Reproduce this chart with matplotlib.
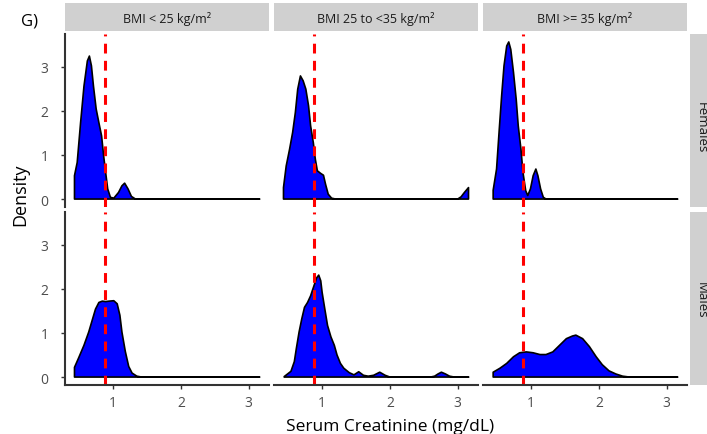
import numpy as np
import matplotlib.pyplot as plt
from matplotlib.patches import Rectangle

plt.rcParams['font.family'] = ['Open Sans', 'DejaVu Sans']

W, H = 707, 435

bmi_groups = ['BMI < 25 kg/m²', 'BMI 25 to <35 kg/m²', 'BMI >= 35 kg/m²']
sexes = ['Females', 'Males']
cutoff = 0.88

# density curves (serum creatinine, density)
fem_lt25_x = [0.43, 0.47, 0.52, 0.57, 0.62, 0.65, 0.68, 0.71, 0.75, 0.79, 0.83, 0.86, 0.89, 0.92, 0.96, 1.01,
              1.08, 1.13, 1.17, 1.22, 1.27, 1.33, 3.16]
fem_lt25_y = [0.53, 0.83, 1.73, 2.56, 3.13, 3.24, 3.02, 2.56, 2.04, 1.73, 1.43, 0.98, 0.60, 0.23, 0.04, 0.02,
              0.15, 0.30, 0.36, 0.23, 0.06, 0.0, 0.0]

fem_25_35_x = [0.43, 0.47, 0.52, 0.565, 0.605, 0.64, 0.68, 0.72, 0.76, 0.80, 0.83, 0.87, 0.90, 0.93, 0.98, 1.02,
               1.05, 1.09, 1.14, 1.20, 3.00, 3.05, 3.10, 3.16]
fem_25_35_y = [0.26, 0.75, 1.13, 1.51, 1.96, 2.49, 2.79, 2.68, 2.49, 2.11, 1.66, 1.28, 0.90, 0.64, 0.58, 0.54,
               0.34, 0.11, 0.02, 0.0, 0.0, 0.05, 0.15, 0.26]

fem_ge35_x = [0.44, 0.49, 0.53, 0.565, 0.60, 0.64, 0.67, 0.70, 0.74, 0.78, 0.81, 0.85, 0.88, 0.92, 0.95, 0.99,
              1.03, 1.07, 1.10, 1.14, 1.18, 1.22, 3.16]
fem_ge35_y = [0.20, 0.68, 1.58, 2.34, 3.02, 3.47, 3.56, 3.39, 2.87, 2.26, 1.66, 1.13, 0.60, 0.19, 0.08, 0.23,
              0.53, 0.68, 0.53, 0.23, 0.04, 0.0, 0.0]

male_lt25_x = [0.43, 0.49, 0.57, 0.64, 0.69, 0.74, 0.79, 0.84, 0.89, 0.94, 1.01, 1.06, 1.10, 1.13, 1.18, 1.23,
               1.28, 1.35, 1.42, 3.16]
male_lt25_y = [0.22, 0.43, 0.72, 1.02, 1.28, 1.54, 1.69, 1.72, 1.71, 1.72, 1.73, 1.66, 1.40, 1.02, 0.58, 0.24,
               0.09, 0.02, 0.0, 0.0]

male_25_35_x = [0.44, 0.54, 0.59, 0.62, 0.66, 0.70, 0.74, 0.785, 0.83, 0.88, 0.92, 0.95, 0.98, 1.00, 1.04, 1.08,
                1.13, 1.18, 1.22, 1.27, 1.32, 1.40, 1.47, 1.54, 1.61, 1.68, 1.76, 1.85, 1.93, 2.0, 2.6, 2.66,
                2.71, 2.76, 2.82, 2.88, 2.95, 3.16]
male_25_35_y = [0.01, 0.13, 0.35, 0.65, 1.02, 1.32, 1.58, 1.69, 1.84, 2.07, 2.25, 2.31, 2.18, 1.92, 1.54, 1.17,
                0.91, 0.72, 0.50, 0.31, 0.20, 0.10, 0.05, 0.12, 0.04, 0.02, 0.04, 0.11, 0.04, 0.0, 0.0, 0.02,
                0.07, 0.11, 0.07, 0.02, 0.0, 0.0]

male_ge35_x = [0.44, 0.54, 0.64, 0.74, 0.83, 0.93, 1.03, 1.13, 1.22, 1.32, 1.42, 1.52, 1.61, 1.66, 1.76, 1.86,
               1.96, 2.05, 2.15, 2.25, 2.35, 2.45, 3.16]
male_ge35_y = [0.11, 0.20, 0.31, 0.46, 0.55, 0.57, 0.55, 0.51, 0.51, 0.57, 0.72, 0.87, 0.93, 0.95, 0.87, 0.69,
               0.46, 0.28, 0.14, 0.07, 0.02, 0.0, 0.0]

curves = [
    [(fem_lt25_x, fem_lt25_y), (fem_25_35_x, fem_25_35_y), (fem_ge35_x, fem_ge35_y)],
    [(male_lt25_x, male_lt25_y), (male_25_35_x, male_25_35_y), (male_ge35_x, male_ge35_y)],
]

# panel layout in pixels
col_left = [65, 274, 483]
panel_w = 204
row_top = [35, 213]
panel_h = 173
strip_col = '#D0D0D0'
axis_col = '#333333'

fig = plt.figure(figsize=(W / 100, H / 100), dpi=100)


def fig_box(x0, y0, w, h):
    return [x0 / W, 1 - (y0 + h) / H, w / W, h / H]


for r in range(2):
    for c in range(3):
        ax = fig.add_axes(fig_box(col_left[c], row_top[r], panel_w, panel_h))
        x, y = curves[r][c]
        xs = np.concatenate([[x[0]], x, [x[-1]]])
        ys = np.concatenate([[0], y, [0]])
        ax.fill(xs, ys, facecolor='#0000FF', edgecolor='black', lw=1.2, joinstyle='round')
        ax.axvline(cutoff, color='#FF0000', lw=2.2, dashes=(3.2, 2.4))
        ax.set_xlim(0.29, 3.30)
        ax.set_ylim(-0.18, 3.74)
        ax.set_xticks([1, 2, 3])
        ax.set_yticks([0, 1, 2, 3])
        ax.patch.set_alpha(0)
        for s in ['top', 'right']:
            ax.spines[s].set_visible(False)
        ax.spines['left'].set_visible(c == 0)
        ax.spines['bottom'].set_visible(r == 1)
        for s in ['left', 'bottom']:
            ax.spines[s].set_color(axis_col)
            ax.spines[s].set_linewidth(1.5)
        ax.tick_params(axis='y', length=3, width=1, color=axis_col, labelcolor='#4D4D4D',
                       labelsize=10, pad=9, left=(c == 0), labelleft=(c == 0))
        ax.tick_params(axis='x', length=3, width=1, color=axis_col, labelcolor='#4D4D4D',
                       labelsize=10, pad=4, bottom=(r == 1), labelbottom=(r == 1))

# facet strips
for c, name in enumerate(bmi_groups):
    fig.add_artist(Rectangle((col_left[c] / W, 1 - 32 / H), panel_w / W, 28 / H,
                             transform=fig.transFigure, facecolor=strip_col, edgecolor='none'))
    fig.text((col_left[c] + panel_w / 2) / W, 1 - 18.5 / H, name, ha='center', va='center',
             fontsize=9, color='#1A1A1A')
strip_text_y = [128, 300]
for r, name in enumerate(sexes):
    fig.add_artist(Rectangle((690 / W, 1 - (row_top[r] + panel_h) / H), 25 / W, panel_h / H,
                             transform=fig.transFigure, facecolor=strip_col, edgecolor='none'))
    fig.text(701 / W, 1 - strip_text_y[r] / H, name, ha='center', va='center',
             rotation=-90, fontsize=9.5, color='#1A1A1A')

fig.text(390 / W, 1 - 427 / H, 'Serum Creatinine (mg/dL)', ha='center', va='center', fontsize=12.5)
fig.text(20 / W, 1 - 195 / H, 'Density', ha='center', va='center', rotation=90, fontsize=13)
fig.text(29 / W, 1 - 21 / H, 'G)', ha='center', va='center', fontsize=12)

fig.savefig('out.png', dpi=100)
